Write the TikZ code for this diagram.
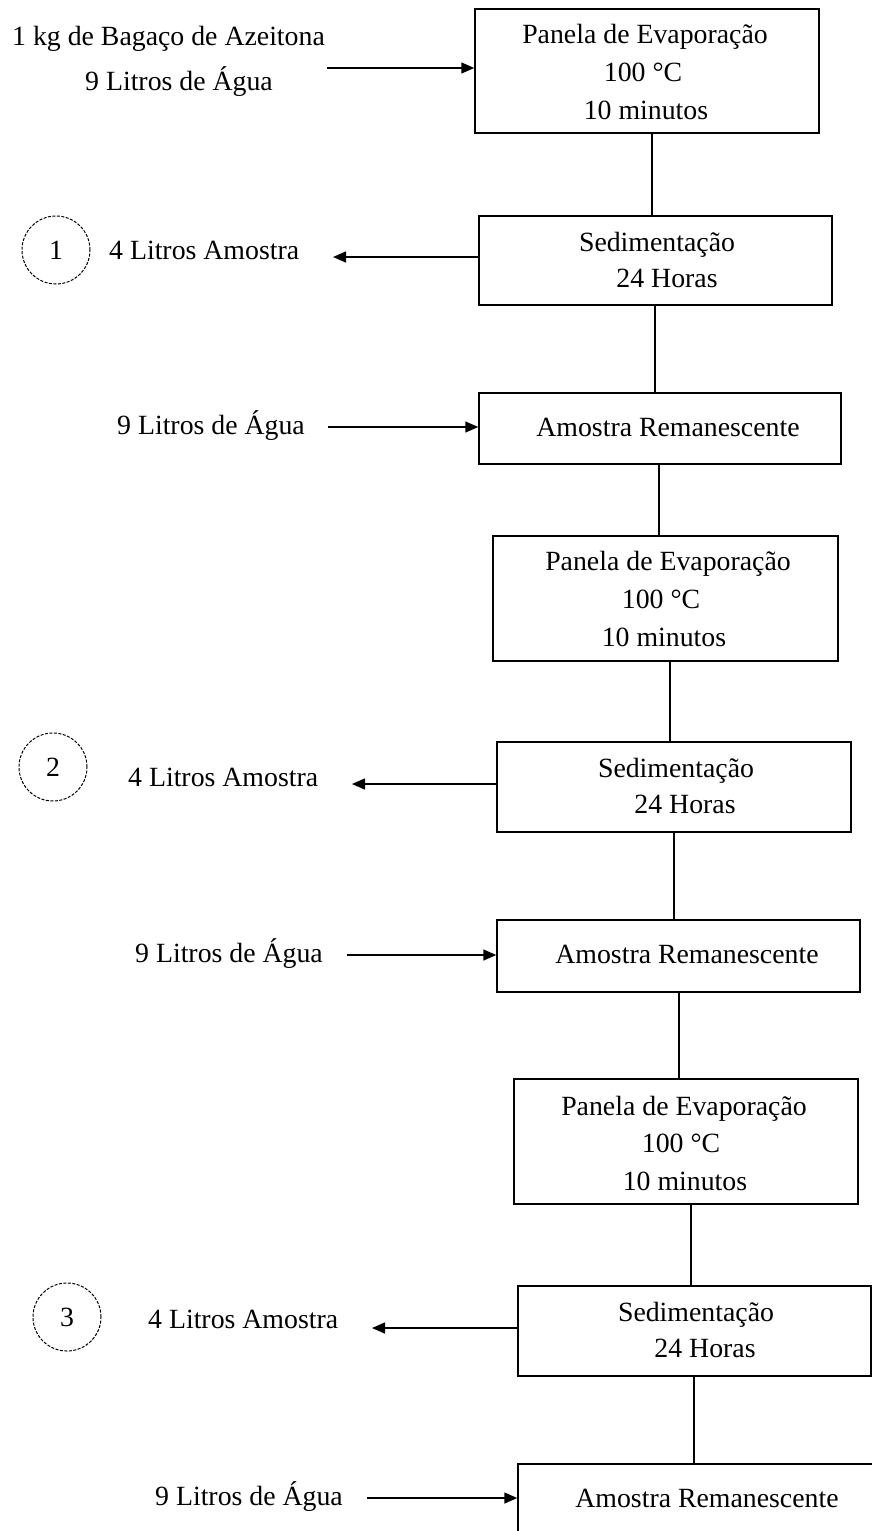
\documentclass[tikz,border=0pt]{standalone}
\usepackage{fontspec}
\setmainfont{Liberation Serif}
\usetikzlibrary{arrows.meta}
\begin{document}
\begin{tikzpicture}[x=1pt,y=-1pt,
  stage/.style={draw, line width=1.5pt, rectangle, inner sep=0pt},
  lbl/.style={anchor=base, inner sep=0pt, font=\fontsize{27.8}{33}\selectfont},
  lblw/.style={lbl, anchor=base west},
  link/.style={line width=1.5pt},
  flow/.style={line width=1.5pt, -{Triangle[length=13pt,width=11pt]}},
  tag/.style={circle, draw, line width=1pt, dash pattern=on 3pt off 1.5pt,
    minimum size=68pt, inner sep=0pt, font=\fontsize{27.8}{33}\selectfont}
]
\useasboundingbox (0,0) rectangle (872,1531);
\clip (0,0) rectangle (872,1531);

% process boxes
\node[stage, minimum width=344pt, minimum height=124pt] (b1) at (647,71) {};
\node[stage, minimum width=353pt, minimum height=89pt]  (b2) at (655.5,260.5) {};
\node[stage, minimum width=362pt, minimum height=71pt]  (b3) at (660,428.5) {};
\node[stage, minimum width=345pt, minimum height=125pt] (b4) at (665.5,598.5) {};
\node[stage, minimum width=354pt, minimum height=90pt]  (b5) at (674,787) {};
\node[stage, minimum width=363pt, minimum height=72pt]  (b6) at (678.5,956) {};
\node[stage, minimum width=344pt, minimum height=125pt] (b7) at (686,1141.5) {};
\node[stage, minimum width=353pt, minimum height=90pt]  (b8) at (694.5,1331) {};
\node[stage, minimum width=362pt, minimum height=72pt]  (b9) at (699,1500) {};

% box texts
\node[lbl] (t1a) at (645,43)  {Panela de Evaporação};
\node[lbl] (t1b) at (643,81)  {100 °C};
\node[lbl] (t1c) at (646,119) {10 minutos};
\node[lbl] (t2a) at (657,251) {Sedimentação};
\node[lbl] (t2b) at (667,287) {24 Horas};
\node[lbl] (t3a) at (668,436) {Amostra Remanescente};
\node[lbl] (t4a) at (668,570) {Panela de Evaporação};
\node[lbl] (t4b) at (661,608) {100 °C};
\node[lbl] (t4c) at (664,646) {10 minutos};
\node[lbl] (t5a) at (676,777) {Sedimentação};
\node[lbl] (t5b) at (685,813) {24 Horas};
\node[lbl] (t6a) at (687,963) {Amostra Remanescente};
\node[lbl] (t7a) at (684,1115) {Panela de Evaporação};
\node[lbl] (t7b) at (681,1152) {100 °C};
\node[lbl] (t7c) at (685,1190) {10 minutos};
\node[lbl] (t8a) at (696,1321) {Sedimentação};
\node[lbl] (t8b) at (705,1357) {24 Horas};
\node[lbl] (t9a) at (707,1507) {Amostra Remanescente};

% side labels
\node[lblw] (in0a) at (12,45)   {1 kg de Bagaço de Azeitona};
\node[lblw] (in0b) at (85,90)   {9 Litros de Água};
\node[lblw] (out1) at (109,259) {4 Litros Amostra};
\node[lblw] (in1)  at (117,434) {9 Litros de Água};
\node[lblw] (out2) at (128,786) {4 Litros Amostra};
\node[lblw] (in2)  at (135,962) {9 Litros de Água};
\node[lblw] (out3) at (148,1328) {4 Litros Amostra};
\node[lblw] (in3)  at (155,1505) {9 Litros de Água};

% sample markers
\node[tag] (c1) at (56,250)  {1};
\node[tag] (c2) at (53,767)  {2};
\node[tag] (c3) at (67,1317) {3};

% arrow end points on the left
\coordinate (s0) at (327,68);
\coordinate (e1) at (333,257);
\coordinate (s1) at (328,427);
\coordinate (e2) at (352,784);
\coordinate (s2) at (347,955);
\coordinate (e3) at (372,1328);
\coordinate (s3) at (367,1498);

% inflows and outflows
\draw[flow] (s0) -- (s0 -| b1.west);
\draw[flow] (e1 -| b2.west) -- (e1);
\draw[flow] (s1) -- (s1 -| b3.west);
\draw[flow] (e2 -| b5.west) -- (e2);
\draw[flow] (s2) -- (s2 -| b6.west);
\draw[flow] (e3 -| b8.west) -- (e3);
\draw[flow] (s3) -- (s3 -| b9.west);

% vertical links between stages
\draw[link] ([xshift=5pt]b1.south) -- ([xshift=5pt]b1.south |- b2.north);
\draw[link] ([xshift=-0.5pt]b2.south) -- ([xshift=-0.5pt]b2.south |- b3.north);
\draw[link] ([xshift=-1pt]b3.south) -- ([xshift=-1pt]b3.south |- b4.north);
\draw[link] ([xshift=4.5pt]b4.south) -- ([xshift=4.5pt]b4.south |- b5.north);
\draw[link] (b5.south) -- (b5.south |- b6.north);
\draw[link] ([xshift=0.5pt]b6.south) -- ([xshift=0.5pt]b6.south |- b7.north);
\draw[link] ([xshift=5pt]b7.south) -- ([xshift=5pt]b7.south |- b8.north);
\draw[link] ([xshift=-0.5pt]b8.south) -- ([xshift=-0.5pt]b8.south |- b9.north);
\end{tikzpicture}
\end{document}
